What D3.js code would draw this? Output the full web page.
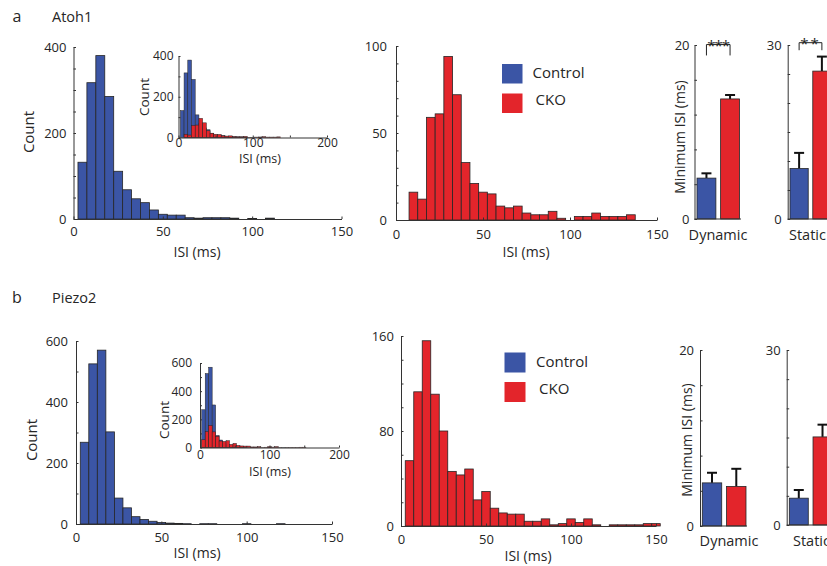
<!DOCTYPE html>
<html lang="en">
<head>
  <meta charset="UTF-8">
  <title>Minimum ISI</title>
  <style>
    body{margin:0;background:#fff;}
    svg{display:block;font-family:"Open Sans",sans-serif;}
  </style>
</head>
<body>
<div id="fig"></div>
<script src="https://d3js.org/d3.v7.min.js"></script>
<script>
// DATA (bin centres in ms, counts per 5 ms bin)
const binWidth = 5;
const atohCtrlBins   = [5,10,15,20,25,30,35,40,45,50,55,60,65,70,75,80,85,90,95,100,105,110];
const atohCtrlCounts = [132,317,380,285,111,68,47,38,21,11,9,9,3,2,3,3,3,2,0,1,0,2];
const atohCkoBins    = [10,15,20,25,30,35,40,45,50,55,60,65,70,75,80,85,90,95,100,105,110,115,120,125,130,135];
const atohCkoCounts  = [16,12,59,61,94,72,33,21,16,15,8,7,8,4,3,3,5,1,0,2,2,4,2,2,2,3];
const piezoCtrlBins   = [5,10,15,20,25,30,35,40,45,50,55,60,65,70,75,80,85,90,95,100,105,110,115,120];
const piezoCtrlCounts = [268,525,570,302,85,53,24,15,9,5,3,2,1,0,1,1,0,0,0,1,0,0,0,1];
const piezoCkoBins    = [5,10,15,20,25,30,35,40,45,50,55,60,65,70,75,80,85,90,95,100,105,110,115,120,125,130,135,140,145,150];
const piezoCkoCounts  = [55,113,156,111,80,46,43,48,22,29,15,11,10,10,4,4,6,1,2,6,3,6,1,0,1,1,1,1,2,2];

// minimum ISI (ms), mean and SEM, order: Control, CKO
const groups = ["Control", "CKO"];
const atohDynMean  = [4.7, 13.8],  atohDynErr  = [0.55, 0.45];
const atohStaMean  = [8.7, 25.5],  atohStaErr  = [2.7, 2.5];
const piezoDynMean = [4.9, 4.5],   piezoDynErr = [1.15, 2.0];
const piezoStaMean = [4.6, 15.1],  piezoStaErr = [1.4, 2.1];

// CONSTANTS
const width = 827, height = 566;
const cblue = "#3b55a5", cred = "#e3252b", cedge = "#262626", ctext = "#262626";

const svg = d3.select("#fig").append("svg")
  .attr("width", width).attr("height", height)
  .attr("viewBox", [0, 0, width, height]);

function label(txt, x, y, size, opts = {}) {
  const t = svg.append("text")
    .attr("x", x).attr("y", y).attr("dy", "0.35em")
    .attr("font-size", size).attr("fill", ctext)
    .attr("text-anchor", opts.anchor || "middle")
    .text(txt);
  if (opts.rotate) t.attr("transform", `rotate(-90,${x},${y})`);
  return t;
}

function styleAxis(sel, size) {
  sel.attr("font-size", size).attr("font-family", null);
  sel.selectAll("path, line").attr("stroke", "#333").attr("stroke-width", 1);
  sel.selectAll("text").attr("fill", ctext);
}

// HISTOGRAM PANEL
function histPanel(p) {
  const x = d3.scaleLinear().domain(p.xDomain).range([p.left, p.right]);
  const y = d3.scaleLinear().domain(p.yDomain).range([p.bottom, p.top]);
  const g = svg.append("g");

  p.series.forEach(s => {
    g.append("g").selectAll("rect")
      .data(s.bins.map((b, i) => ({b: b, c: s.counts[i]})))
      .join("rect")
      .attr("x", d => x(d.b - binWidth / 2))
      .attr("width", d => x(d.b + binWidth / 2) - x(d.b - binWidth / 2))
      .attr("y", d => y(d.c))
      .attr("height", d => y(0) - y(d.c))
      .attr("fill", s.color)
      .attr("stroke", cedge)
      .attr("stroke-width", p.sw);
  });

  const ya = d3.axisLeft(y).tickValues(p.yTicks)
    .tickSizeInner(-p.tick).tickSizeOuter(0).tickPadding(p.yPad)
    .tickFormat(d => p.yLabels.includes(d) ? d : "");
  g.append("g").attr("transform", `translate(${p.left},0)`).call(ya).call(styleAxis, p.fs);

  const xa = d3.axisBottom(x).tickValues(p.xTicks)
    .tickSizeInner(-p.tick).tickSizeOuter(0).tickPadding(p.xPad)
    .tickFormat(d => p.xLabels.includes(d) ? d : "");
  g.append("g").attr("transform", `translate(0,${p.bottom})`).call(xa).call(styleAxis, p.fs);
}

// BAR PANEL
function barPanel(p) {
  const x = d3.scaleBand().domain(groups).range([p.left, p.right]).paddingInner(0.2);
  const y = d3.scaleLinear().domain([0, p.max]).range([p.bottom, p.top]);
  const g = svg.append("g");
  const data = groups.map((k, i) => ({k: k, m: p.mean[i], e: p.err[i]}));

  // error bars
  const eb = g.append("g").selectAll("g").data(data).join("g");
  eb.append("line")
    .attr("x1", d => x(d.k) + x.bandwidth() / 2).attr("x2", d => x(d.k) + x.bandwidth() / 2)
    .attr("y1", d => y(d.m)).attr("y2", d => y(d.m + d.e))
    .attr("stroke", "#111").attr("stroke-width", 2);
  eb.append("line")
    .attr("x1", d => x(d.k) + x.bandwidth() / 2 - 5).attr("x2", d => x(d.k) + x.bandwidth() / 2 + 5)
    .attr("y1", d => y(d.m + d.e)).attr("y2", d => y(d.m + d.e))
    .attr("stroke", "#111").attr("stroke-width", 2);

  g.append("g").selectAll("rect").data(data).join("rect")
    .attr("x", d => x(d.k)).attr("width", x.bandwidth())
    .attr("y", d => y(d.m)).attr("height", d => y(0) - y(d.m))
    .attr("fill", (d, i) => i ? cred : cblue)
    .attr("stroke", cedge).attr("stroke-width", 0.8);

  const ya = d3.axisLeft(y).tickValues(p.yTicks)
    .tickSizeInner(-2.5).tickSizeOuter(0).tickPadding(p.yPad)
    .tickFormat(d => (d === 0 || d === p.max) ? d : "");
  g.append("g").attr("transform", `translate(${p.axisX},0)`).call(ya).call(styleAxis, 13);

  g.append("line")
    .attr("x1", p.axisX).attr("x2", p.baseEnd)
    .attr("y1", y(0)).attr("y2", y(0))
    .attr("stroke", "#333").attr("stroke-width", 1);

  if (p.sig) {
    const xa = x(groups[0]) + x.bandwidth() / 2, xb = x(groups[1]) + x.bandwidth() / 2;
    g.append("path")
      .attr("d", `M${xa},${y(p.sig.lo)}V${y(p.sig.hi)}H${xb}V${y(p.sig.lo)}`)
      .attr("fill", "none").attr("stroke", "#222").attr("stroke-width", 1);
    g.append("text")
      .attr("x", (xa + xb) / 2).attr("y", y(p.sig.hi) + 6)
      .attr("text-anchor", "middle").attr("font-size", 15).attr("fill", ctext)
      .attr("letter-spacing", p.sig.ls)
      .text(p.sig.text);
  }
}

// ---------- PANEL a : Atoh1 ----------
label("a", 17, 16, 16);
label("Atoh1", 52, 17, 14.5, {anchor: "start"});

histPanel({
  left: 73.5, right: 341.5, top: 47, bottom: 219,
  xDomain: [0, 150], yDomain: [0, 400],
  series: [{bins: atohCtrlBins, counts: atohCtrlCounts, color: cblue}],
  yTicks: d3.range(0, 401, 50), yLabels: [0, 200, 400],
  xTicks: [0, 50, 100, 150], xLabels: [0, 50, 100, 150],
  tick: 2.5, xPad: 8, yPad: 7, fs: 13, sw: 0.8
});
label("Count", 29, 132, 15, {rotate: true});
label("ISI (ms)", 197, 252, 14);

// inset
histPanel({
  left: 178.5, right: 327, top: 56, bottom: 137.5,
  xDomain: [0, 200], yDomain: [0, 400],
  series: [{bins: atohCtrlBins, counts: atohCtrlCounts, color: cblue},
           {bins: atohCkoBins, counts: atohCkoCounts, color: cred}],
  yTicks: d3.range(0, 401, 100), yLabels: [0, 200, 400],
  xTicks: [0, 50, 100, 150, 200], xLabels: [0, 100, 200],
  tick: 2, xPad: 1, yPad: 5, fs: 12, sw: 0.5
});
label("Count", 144, 97, 13.5, {rotate: true});
label("ISI (ms)", 260, 159, 12.5);

// CKO histogram
histPanel({
  left: 396, right: 657, top: 46, bottom: 220,
  xDomain: [0, 150], yDomain: [0, 100],
  series: [{bins: atohCkoBins, counts: atohCkoCounts, color: cred}],
  yTicks: d3.range(0, 101, 10), yLabels: [0, 50, 100],
  xTicks: [0, 50, 100, 150], xLabels: [0, 50, 100, 150],
  tick: 2.5, xPad: 10, yPad: 9, fs: 13, sw: 0.8
});
label("ISI (ms)", 526, 252, 14);

// legend
svg.append("rect").attr("x", 502).attr("y", 64).attr("width", 20.5).attr("height", 19.5).attr("fill", cblue);
svg.append("rect").attr("x", 502).attr("y", 93.5).attr("width", 20.5).attr("height", 19.5).attr("fill", cred);
label("Control", 532.5, 72.5, 15, {anchor: "start"});
label("CKO", 535.5, 100, 15, {anchor: "start"});

// bars
barPanel({
  left: 697, right: 739.5, axisX: 694.5, baseEnd: 741, top: 45, bottom: 219, max: 20,
  mean: atohDynMean, err: atohDynErr, yTicks: d3.range(0, 21, 4), yPad: 5,
  sig: {lo: 18.8, hi: 20.05, text: "***", ls: -1}
});
label("Minimum ISI (ms)", 680, 137, 14, {rotate: true});
label("Dynamic", 718, 235, 14.5);

barPanel({
  left: 790, right: 831, axisX: 787.7, baseEnd: 827, top: 45, bottom: 219, max: 30,
  mean: atohStaMean, err: atohStaErr, yTicks: d3.range(0, 31, 5), yPad: 6,
  sig: {lo: 29.1, hi: 30.4, text: "**", ls: 2}
});
label("Static", 789, 235, 14.5, {anchor: "start"});

// ---------- PANEL b : Piezo2 ----------
label("b", 17, 297, 16);
label("Piezo2", 52, 298, 14.5, {anchor: "start"});

histPanel({
  left: 76, right: 332, top: 341, bottom: 524,
  xDomain: [0, 150], yDomain: [0, 600],
  series: [{bins: piezoCtrlBins, counts: piezoCtrlCounts, color: cblue}],
  yTicks: d3.range(0, 601, 100), yLabels: [0, 200, 400, 600],
  xTicks: [0, 50, 100, 150], xLabels: [0, 50, 100, 150],
  tick: 2.5, xPad: 9, yPad: 8, fs: 13, sw: 0.8
});
label("Count", 32, 440, 15, {rotate: true});
label("ISI (ms)", 197, 553, 14);

// inset
histPanel({
  left: 200, right: 339, top: 363, bottom: 447.5,
  xDomain: [0, 200], yDomain: [0, 600],
  series: [{bins: piezoCtrlBins, counts: piezoCtrlCounts, color: cblue},
           {bins: piezoCkoBins, counts: piezoCkoCounts, color: cred}],
  yTicks: d3.range(0, 601, 100), yLabels: [0, 200, 400, 600],
  xTicks: [0, 50, 100, 150, 200], xLabels: [0, 100, 200],
  tick: 2, xPad: 3, yPad: 8, fs: 12, sw: 0.5
});
label("Count", 164, 420, 13.5, {rotate: true});
label("ISI (ms)", 270, 472, 12.5);

// CKO histogram
histPanel({
  left: 401, right: 656, top: 336, bottom: 526,
  xDomain: [0, 150], yDomain: [0, 160],
  series: [{bins: piezoCkoBins, counts: piezoCkoCounts, color: cred}],
  yTicks: d3.range(0, 161, 20), yLabels: [0, 80, 160],
  xTicks: [0, 50, 100, 150], xLabels: [0, 50, 100, 150],
  tick: 2.5, xPad: 9, yPad: 7, fs: 13, sw: 0.8
});
label("ISI (ms)", 528, 556, 14);

// legend
svg.append("rect").attr("x", 504.5).attr("y", 352.5).attr("width", 21).attr("height", 20).attr("fill", cblue);
svg.append("rect").attr("x", 504.5).attr("y", 382).attr("width", 21).attr("height", 20).attr("fill", cred);
label("Control", 536, 361.5, 15, {anchor: "start"});
label("CKO", 539, 389, 15, {anchor: "start"});

// bars
barPanel({
  left: 702.3, right: 746, axisX: 700, baseEnd: 747, top: 350, bottom: 526, max: 20,
  mean: piezoDynMean, err: piezoDynErr, yTicks: d3.range(0, 21, 4), yPad: 6
});
label("Minimum ISI (ms)", 687, 440, 14, {rotate: true});
label("Dynamic", 729, 541, 14.5);

barPanel({
  left: 789.3, right: 832, axisX: 786.7, baseEnd: 827, top: 350, bottom: 525, max: 30,
  mean: piezoStaMean, err: piezoStaErr, yTicks: d3.range(0, 31, 5), yPad: 6
});
label("Static", 793, 541, 14.5, {anchor: "start"});
</script>
</body>
</html>
